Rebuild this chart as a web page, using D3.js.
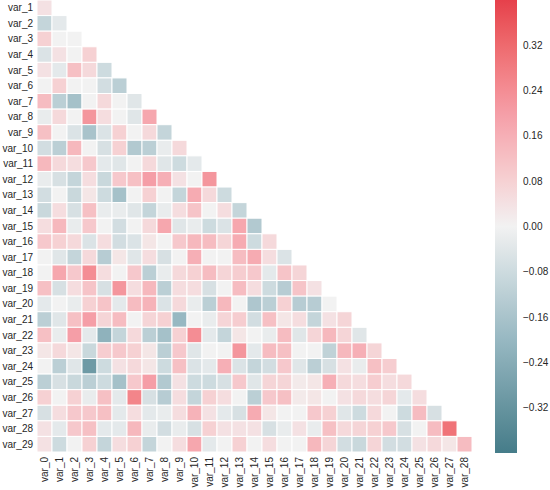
<!DOCTYPE html>
<html>
<head>
<meta charset="utf-8">
<script src="https://cdn.jsdelivr.net/npm/d3@7"></script>
<style>
  body { margin: 0; background: #fff; }
  text { font-family: "Liberation Sans", Arial, sans-serif; fill: #262626; }
</style>
</head>
<body>
<svg id="chart" width="550" height="490"></svg>
<script>
const columns = d3.range(29).map((i) => "var_" + i);
const rowNames = d3.range(1, 30).map((i) => "var_" + i);

// lower triangle, row var_k has k values (columns var_0 .. var_{k-1})
const rows = [
  [0.04],
  [-0.1, -0.03],
  [0.08, 0, 0],
  [-0.05, 0.04, 0, 0.08],
  [0.04, -0.03, 0.12, 0.06, -0.08],
  [0, 0.08, 0, 0, -0.07, -0.12],
  [0.13, -0.12, -0.17, 0, 0.06, 0, -0.04],
  [-0.02, 0.06, 0, 0.22, 0.05, 0, -0.04, 0.18],
  [0.12, 0, -0.05, -0.16, -0.05, 0.08, 0, 0.06, -0.1],
  [-0.07, -0.12, 0.14, 0, -0.06, 0.08, -0.14, -0.12, -0.02, 0.06],
  [0.14, 0.06, 0.05, 0.1, -0.03, -0.04, 0, 0.06, -0.04, -0.08, -0.03],
  [-0.02, -0.06, -0.1, 0.05, -0.09, 0.1, 0.12, 0.2, 0.16, 0.04, 0, 0.22],
  [-0.07, 0, -0.09, 0.03, -0.08, -0.17, 0, 0.08, 0, -0.1, 0.17, 0.06, -0.08],
  [-0.09, 0.05, -0.06, 0.12, -0.02, -0.02, -0.04, -0.1, -0.02, 0.05, 0.11, 0, 0.05, -0.1],
  [0.05, 0.14, -0.02, 0.1, 0, -0.07, 0, 0.06, 0.18, -0.04, -0.02, -0.08, -0.05, 0.18, -0.14],
  [0.1, 0.08, 0.06, -0.05, 0.05, -0.07, -0.05, 0.03, 0, 0.1, 0.14, 0.13, 0.07, 0.17, -0.08, 0.06],
  [0, -0.04, -0.1, 0.06, -0.13, 0.03, -0.04, 0.05, -0.06, 0, 0.16, 0, 0, 0.13, 0.17, 0.05, -0.05],
  [0, 0.18, 0.1, 0.24, 0.05, 0, 0.1, -0.12, -0.02, 0.06, 0.08, 0.13, 0.07, 0.09, 0.1, -0.03, 0.11, 0.07],
  [0.12, -0.06, 0.05, 0.11, -0.06, 0.22, 0.05, 0.14, -0.12, 0.05, 0.05, -0.06, 0, 0.13, 0.05, -0.08, -0.13, 0.11, 0.04],
  [-0.03, 0, -0.02, 0.08, 0.11, -0.03, 0.13, 0.15, -0.05, 0.06, -0.02, -0.12, 0.14, 0, -0.15, -0.12, 0.08, -0.13, -0.13, 0],
  [-0.12, -0.04, 0.12, 0.2, 0.07, 0.13, 0, 0.07, 0.08, -0.2, 0, -0.02, 0.07, 0.09, -0.07, 0.12, 0.03, 0.05, -0.1, 0.04, 0.07],
  [0.12, -0.02, 0.2, -0.03, -0.22, -0.1, 0.06, -0.12, -0.17, 0.08, 0.24, -0.03, -0.1, 0.03, 0, -0.02, 0.13, -0.04, 0.07, 0.14, 0.07, -0.04],
  [0.03, 0.06, 0.03, -0.09, 0.09, 0.1, 0.08, 0.03, -0.12, 0.1, -0.04, 0, 0, 0.22, -0.03, 0.13, 0.12, 0, 0, -0.11, 0.14, 0.16, 0.07],
  [0, -0.12, -0.04, -0.3, -0.08, 0.04, 0.06, 0.03, -0.08, 0.12, -0.05, -0.03, 0.16, -0.05, -0.1, -0.07, 0.1, -0.04, -0.12, -0.06, 0.04, -0.02, 0.12, 0.09],
  [-0.12, -0.06, -0.09, -0.12, -0.08, -0.17, 0.1, 0.2, -0.14, 0.04, -0.08, -0.08, -0.06, 0.1, -0.04, 0.07, 0.07, 0.02, 0.03, 0.16, 0.06, 0.05, 0.09, 0.05, 0.06],
  [0.08, 0, 0.08, -0.02, 0.12, -0.03, 0.26, -0.06, -0.13, 0.05, -0.1, 0.08, 0.05, 0, -0.12, 0.1, 0.12, 0.02, 0.03, 0, 0.04, 0.06, 0.05, 0.07, -0.03, 0.05],
  [-0.06, 0.05, 0.1, 0.1, 0.12, -0.03, 0.05, -0.03, -0.02, 0.05, 0.15, 0.04, -0.03, -0.06, 0.17, 0.03, 0, 0, 0.1, 0.08, -0.04, -0.08, 0.06, 0, -0.08, 0.13, -0.06],
  [0.04, -0.03, 0.1, 0.12, -0.03, -0.03, 0.14, -0.02, -0.07, -0.02, -0.06, 0.08, 0.04, 0.04, 0.04, -0.06, -0.02, 0.04, -0.02, 0.12, 0.06, 0.07, 0.08, 0.1, -0.06, 0, 0.13, 0.3],
  [0.04, -0.08, 0, 0.08, -0.1, 0.05, 0.08, -0.1, 0, 0.05, 0.18, -0.03, 0, 0.08, 0, 0.05, 0, 0, 0.14, 0.07, -0.07, -0.09, 0.07, -0.07, -0.07, 0.04, 0.06, 0.03, 0.13]
];
const cbTicks = [-0.32, -0.24, -0.16, -0.08, 0, 0.08, 0.16, 0.24, 0.32];

const svg = d3.select("#chart");
const x = d3.scaleBand().domain(columns).range([37, 472]);
const y = d3.scaleBand().domain(rowNames).range([0, 452]);
const color = d3.scaleLinear()
  .domain([-0.4, -0.2, 0, 0.2, 0.4])
  .range(["#457c89", "#97b8c2", "#f2f2f2", "#f59ea7", "#e6404b"])
  .interpolate(d3.interpolateLab)
  .clamp(true);

const cells = rows.flatMap((vals, r) =>
  vals.map((v, c) => ({ row: rowNames[r], col: columns[c], v })));

svg.append("g")
  .selectAll("rect")
  .data(cells)
  .join("rect")
  .attr("x", (d) => x(d.col))
  .attr("y", (d) => y(d.row))
  .attr("width", x.bandwidth())
  .attr("height", y.bandwidth())
  .attr("fill", (d) => color(d.v))
  .attr("stroke", "#fff")
  .attr("stroke-width", 1);

svg.append("g")
  .selectAll("text")
  .data(rowNames)
  .join("text")
  .attr("x", 33)
  .attr("y", (d) => y(d) + y.bandwidth() / 2)
  .attr("dy", "0.35em")
  .attr("text-anchor", "end")
  .style("font-size", "10px")
  .text((d) => d);

svg.append("g")
  .selectAll("text")
  .data(columns)
  .join("text")
  .attr("transform", (d) => `translate(${x(d) + x.bandwidth() / 2},457) rotate(-90)`)
  .attr("dy", "0.35em")
  .attr("text-anchor", "end")
  .style("font-size", "10px")
  .text((d) => d);

// colour bar
const cb = d3.scaleLinear().domain([-0.4, 0.4]).range([453, 0]);
const defs = svg.append("defs");
const grad = defs.append("linearGradient")
  .attr("id", "cbgrad").attr("x1", 0).attr("x2", 0).attr("y1", 1).attr("y2", 0);
grad.selectAll("stop")
  .data(d3.range(0, 1.0001, 0.05))
  .join("stop")
  .attr("offset", (t) => t)
  .attr("stop-color", (t) => color(-0.4 + 0.8 * t));
svg.append("rect")
  .attr("x", 495).attr("y", 0).attr("width", 22).attr("height", 453)
  .attr("fill", "url(#cbgrad)");
svg.append("g")
  .selectAll("text")
  .data(cbTicks)
  .join("text")
  .attr("x", 523)
  .attr("y", (d) => cb(d))
  .attr("dy", "0.35em")
  .style("font-size", "10px")
  .text((d) => d3.format(".2f")(d).replace("-", "\u2212"));
</script>
</body>
</html>
